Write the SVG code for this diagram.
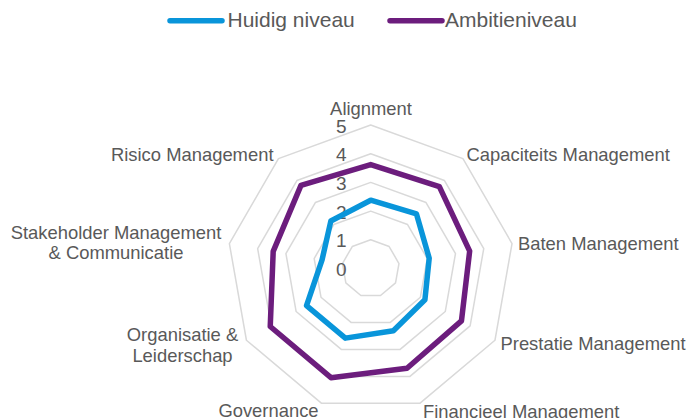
<svg xmlns="http://www.w3.org/2000/svg" width="692" height="418" viewBox="0 0 692 418">
<style>
text{font-family:"Liberation Sans",Arial,Helvetica,sans-serif;fill:#595959}
.lbl{font-size:18.4px}
.tick{font-size:19px;text-anchor:end}
.leg{font-size:21px}
.grid{fill:none;stroke:#D9D9D9;stroke-width:1.5;stroke-linejoin:round}
.ser{fill:none;stroke-width:5.5;stroke-linejoin:round;stroke-linecap:round}
.cur{stroke:#0995DA}
.amb{stroke:#6C1D7D}
</style>
<rect width="692" height="418" fill="#FFFFFF"/>
<g id="legend">
<line class="ser cur" x1="170" y1="20.7" x2="222" y2="20.7"/>
<text class="leg" x="227.5" y="27">Huidig niveau</text>
<line class="ser amb" x1="390" y1="20.7" x2="442" y2="20.7"/>
<text class="leg" x="445" y="27">Ambitieniveau</text>
</g>
<g id="grid" transform="translate(370.7,268.5)">
<polygon class="grid" points="0,-28.7 18.45,-21.98 28.26,-4.98 24.85,14.35 9.82,26.97 -9.82,26.97 -24.85,14.35 -28.26,-4.98 -18.45,-21.98"/>
<polygon class="grid" points="0,-57.4 36.9,-43.97 56.53,-9.97 49.71,28.7 19.63,53.94 -19.63,53.94 -49.71,28.7 -56.53,-9.97 -36.9,-43.97"/>
<polygon class="grid" points="0,-86.1 55.35,-65.95 84.79,-14.95 74.56,43.05 29.45,80.91 -29.45,80.91 -74.56,43.05 -84.79,-14.95 -55.35,-65.95"/>
<polygon class="grid" points="0,-114.8 73.79,-87.94 113.05,-19.93 99.42,57.4 39.26,107.88 -39.26,107.88 -99.42,57.4 -113.05,-19.93 -73.79,-87.94"/>
<polygon class="grid" points="0,-143.5 92.24,-109.92 141.32,-24.91 124.27,71.75 49.08,134.85 -49.08,134.85 -124.27,71.75 -141.32,-24.91 -92.24,-109.92"/>
</g>
<g id="ticks">
<text class="tick" x="346.5" y="276">0</text>
<text class="tick" x="346.5" y="247.3">1</text>
<text class="tick" x="346.5" y="218.6">2</text>
<text class="tick" x="346.5" y="189.9">3</text>
<text class="tick" x="346.5" y="161.2">4</text>
<text class="tick" x="346.5" y="132.5">5</text>
</g>
<g id="series" transform="translate(370.7,268.5)">
<polygon id="huidig" class="ser cur" points="0,-68.3 45.77,-54.54 58.5,-10.31 54.21,31.3 22.67,62.3 -25.34,69.63 -64.17,37.05 -48.65,-8.58 -39.85,-47.49"/>
<polygon id="ambitie" class="ser amb" points="0,-103.9 68.65,-81.81 98.97,-17.45 90.76,52.4 36.32,99.8 -39.74,109.19 -100.46,58 -97.5,-17.19 -69.74,-83.11"/>
</g>
<g id="axis-labels">
<g id="lbl-alignment"><text class="lbl" x="371" y="115" text-anchor="middle">Alignment</text></g>
<g id="lbl-capaciteits"><text class="lbl" x="466.5" y="160.7">Capaciteits Management</text></g>
<g id="lbl-baten"><text class="lbl" x="518" y="249.5">Baten Management</text></g>
<g id="lbl-prestatie"><text class="lbl" x="500.5" y="350">Prestatie Management</text></g>
<g id="lbl-financieel"><text class="lbl" x="423" y="417.5">Financieel Management</text></g>
<g id="lbl-governance"><text class="lbl" x="268.5" y="416.5" text-anchor="middle">Governance</text></g>
<g id="lbl-organisatie"><text class="lbl" x="182.5" y="340.7" text-anchor="middle">Organisatie &amp;</text><text class="lbl" x="182.5" y="361.7" text-anchor="middle">Leiderschap</text></g>
<g id="lbl-stakeholder"><text class="lbl" x="116" y="239.3" text-anchor="middle">Stakeholder Management</text><text class="lbl" x="116" y="259.3" text-anchor="middle">&amp; Communicatie</text></g>
<g id="lbl-risico"><text class="lbl" x="273.5" y="160.7" text-anchor="end">Risico Management</text></g>
</g>
</svg>
